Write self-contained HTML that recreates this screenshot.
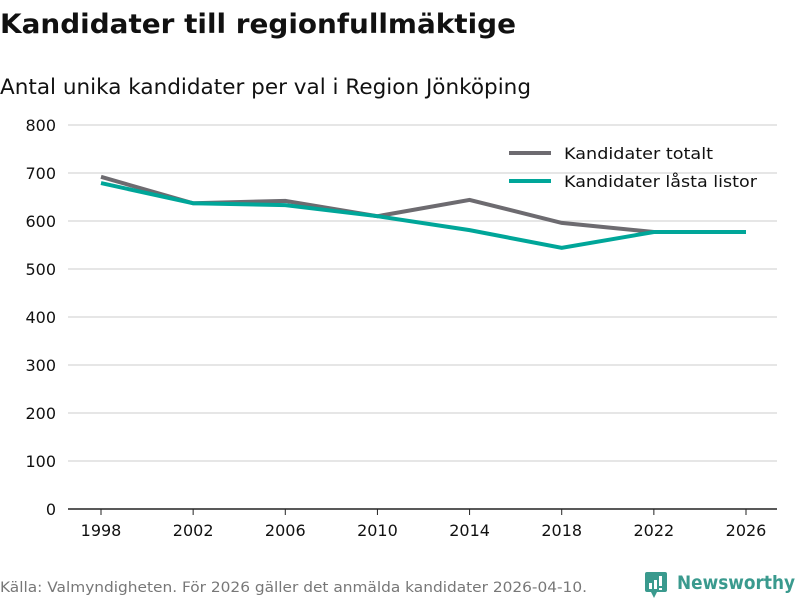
<!DOCTYPE html>
<html><head><meta charset="utf-8"><style>
body{margin:0;background:#fff;font-family:"DejaVu Sans","Liberation Sans",sans-serif;}
svg text{font-family:"DejaVu Sans","Liberation Sans",sans-serif;}
</style></head><body>
<svg id="chart" width="800" height="600" xmlns="http://www.w3.org/2000/svg">
<text x="0" y="33" font-size="27" font-weight="bold" fill="#111" textLength="516" lengthAdjust="spacingAndGlyphs">Kandidater till regionfullmäktige</text>
<text x="0" y="94" font-size="21" fill="#111" textLength="531" lengthAdjust="spacingAndGlyphs">Antal unika kandidater per val i Region Jönköping</text>
<g id="grid"></g><g id="lines"></g>
<g>
<line x1="509" y1="153" x2="551" y2="153" stroke="#6d6b70" stroke-width="4"/>
<text x="564" y="159" font-size="16" fill="#111" textLength="149" lengthAdjust="spacingAndGlyphs">Kandidater totalt</text>
<line x1="509" y1="181" x2="551" y2="181" stroke="#00a699" stroke-width="4"/>
<text x="564" y="187" font-size="16" fill="#111" textLength="193" lengthAdjust="spacingAndGlyphs">Kandidater låsta listor</text>
</g>
<text x="0" y="592" font-size="14" fill="#777" textLength="587" lengthAdjust="spacingAndGlyphs">Källa: Valmyndigheten. För 2026 gäller det anmälda kandidater 2026-04-10.</text>
<g>
<rect x="645" y="572" width="22" height="20" rx="2" fill="#3a9a8e"/>
<polygon points="651,592 657,592 654,598" fill="#3a9a8e"/>
<rect x="649" y="583" width="3" height="6" fill="#fff"/><rect x="654" y="580" width="3" height="9" fill="#fff"/><rect x="659" y="576" width="3" height="10" fill="#fff"/><rect x="659" y="588" width="3" height="2" fill="#fff"/>
<text x="677" y="589" font-size="19" font-weight="bold" fill="#3a9a8e" textLength="118" lengthAdjust="spacingAndGlyphs">Newsworthy</text>
</g>
</svg>
<script>
const years=[1998,2002,2006,2010,2014,2018,2022,2026];
const totalt=[692,637,642,610,644,596,577,577];
const lasta=[679,637,633,610,581,544,577,577];
const yTicks=[0,100,200,300,400,500,600,700,800];
const NS="http://www.w3.org/2000/svg";
const x=v=>101+(v-1998)*(746-101)/28;
const y=v=>509-v*0.48;
const grid=document.getElementById('grid');
yTicks.forEach(t=>{
 const l=document.createElementNS(NS,'line');
 l.setAttribute('x1',68);l.setAttribute('x2',777);l.setAttribute('y1',y(t));l.setAttribute('y2',y(t));
 l.setAttribute('stroke',t===0?'#222':'#ddd');l.setAttribute('stroke-width',1.5);
 
 
 grid.appendChild(l);
 const tx=document.createElementNS(NS,'text');
 tx.setAttribute('x',56);tx.setAttribute('y',y(t)+6);tx.setAttribute('text-anchor','end');
 tx.setAttribute('font-size','16');tx.setAttribute('fill','#111');tx.textContent=t;
 
 
 grid.appendChild(tx);
});
years.forEach(yr=>{
 const l=document.createElementNS(NS,'line');
 l.setAttribute('x1',x(yr));l.setAttribute('x2',x(yr));l.setAttribute('y1',509);l.setAttribute('y2',515);l.setAttribute('stroke','#222');
 
 
 grid.appendChild(l);
 const tx=document.createElementNS(NS,'text');
 tx.setAttribute('x',x(yr));tx.setAttribute('y',536);tx.setAttribute('text-anchor','middle');
 tx.setAttribute('font-size','16');tx.setAttribute('fill','#111');tx.textContent=yr;
 
 
 grid.appendChild(tx);
});
const lines=document.getElementById('lines');
[[totalt,'#6d6b70','line-totalt'],[lasta,'#00a699','line-lasta']].forEach(([d,c,n])=>{
 const p=document.createElementNS(NS,'polyline');
 p.setAttribute('points',d.map((v,i)=>x(years[i])+','+y(v)).join(' '));
 p.setAttribute('fill','none');p.setAttribute('stroke',c);p.setAttribute('stroke-width',4);
 
 
 lines.appendChild(p);
});
</script>
</body></html>
